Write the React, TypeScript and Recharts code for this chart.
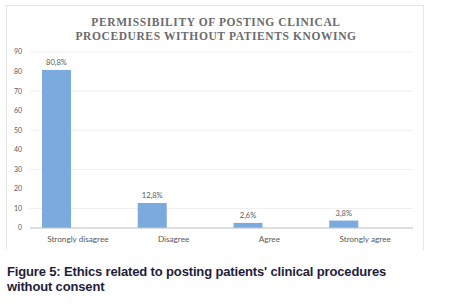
import React from 'react';
import { Bar, BarChart, CartesianGrid, LabelList, XAxis, YAxis } from 'recharts';

const categories = ['Strongly disagree', 'Disagree', 'Agree', 'Strongly agree'];
const percentages = [80.8, 12.8, 2.6, 3.8];
const yTicks = [0, 10, 20, 30, 40, 50, 60, 70, 80, 90];
const titleLines = ['PERMISSIBILITY OF POSTING CLINICAL', 'PROCEDURES WITHOUT PATIENTS KNOWING'];
const captionLines = [
  "Figure 5: Ethics related to posting patients' clinical procedures",
  'without consent',
];

const chartData = categories.map((name, i) => ({
  name,
  value: percentages[i],
  // empty second slot, keeps the bar on the left of its band like the original
  spacer: 0,
}));

const formatPct = (value: number) => value.toFixed(1).replace('.', ',') + '%';

const chartFont = 'Lato, "Open Sans", sans-serif';

export default function App() {
  return (
    <div
      style={{
        position: 'absolute',
        left: 0,
        top: 0,
        width: 453,
        height: 308,
        background: '#ffffff',
        overflow: 'hidden',
      }}
    >
      <div
        style={{
          position: 'absolute',
          left: 6,
          top: 5,
          width: 418,
          height: 245,
          boxSizing: 'border-box',
          border: '1px solid #e6e6e6',
          borderBottom: 'none',
        }}
      >
        <div
          style={{
            position: 'absolute',
            left: 0,
            top: 9,
            width: 418,
            textAlign: 'center',
            fontFamily: '"Liberation Serif", "Times New Roman", serif',
            fontWeight: 'bold',
            fontSize: 11.5,
            lineHeight: '14px',
            letterSpacing: 0.6,
            color: '#6b6b6b',
          }}
        >
          {titleLines.map((line) => (
            <div key={line}>{line}</div>
          ))}
        </div>
        <BarChart
          width={418}
          height={245}
          data={chartData}
          margin={{ top: 47, right: 11, bottom: 0, left: 0 }}
          barSize={29}
          barGap={14}
          style={{ position: 'absolute', left: -1, top: -1 }}
        >
          <CartesianGrid vertical={false} stroke="#efefef" />
          <XAxis
            dataKey="name"
            tickLine={false}
            axisLine={{ stroke: '#c4c4c4' }}
            height={22}
            tick={{ fontSize: 8.2, fill: '#595959', fontFamily: chartFont }}
            interval={0}
          />
          <YAxis
            width={24}
            domain={[0, 90]}
            ticks={yTicks}
            axisLine={false}
            tickLine={false}
            tick={{ fontSize: 7, fill: '#595959', fontFamily: chartFont }}
          />
          <Bar dataKey="value" fill="#7aaade" isAnimationActive={false}>
            <LabelList
              dataKey="value"
              position="top"
              offset={5}
              formatter={(v: number) => formatPct(v)}
              style={{ fontSize: 7.5, fill: '#595959', fontFamily: chartFont }}
            />
          </Bar>
          <Bar dataKey="spacer" fill="#7aaade" isAnimationActive={false} />
        </BarChart>
      </div>
      <div
        style={{
          position: 'absolute',
          left: 7,
          top: 264,
          fontFamily: '"Liberation Sans", Arial, sans-serif',
          fontWeight: 'bold',
          fontSize: 13,
          lineHeight: '15px',
          letterSpacing: -0.15,
          color: '#1e1e3c',
          whiteSpace: 'nowrap',
        }}
      >
        {captionLines.map((line) => (
          <div key={line}>{line}</div>
        ))}
      </div>
    </div>
  );
}
